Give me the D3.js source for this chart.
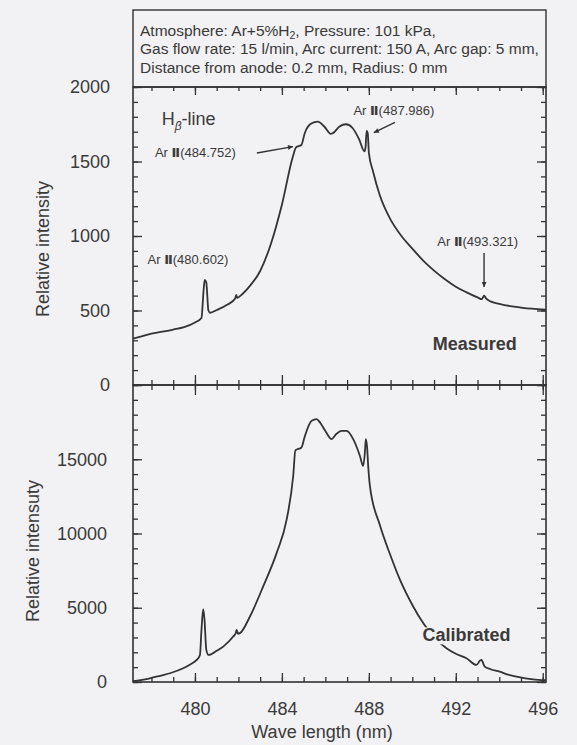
<!DOCTYPE html>
<html>
<head>
<meta charset="utf-8">
<script src="https://cdn.jsdelivr.net/npm/d3@7"></script>
<style>
  body { margin: 0; background: #f2f1f3; }
  text { font-family: "Liberation Sans", Arial, sans-serif; fill: #3a3a3a; }
</style>
</head>
<body>
<div id="plot"></div>
<script>
// measured spectrum (wavelength in nm, relative intensity)
const measuredNm = [477.15, 477.5, 478.0, 478.5, 479.0, 479.5, 480.0, 480.3, 480.4, 480.45, 480.52, 480.62, 480.7, 481.0, 481.5, 481.85, 481.9, 481.95, 482.1, 482.5, 483.0, 483.5, 484.0, 484.5, 484.65, 484.9, 485.05, 485.35, 485.65, 485.95, 486.25, 486.35, 486.65, 486.95, 487.25, 487.55, 487.8, 487.85, 487.9, 487.95, 488.0, 488.2, 488.5, 489.0, 489.5, 490.0, 490.5, 491.0, 491.5, 492.0, 492.5, 493.0, 493.2, 493.3, 493.4, 493.6, 494.0, 494.5, 495.0, 495.5, 496.15];
const measuredVal = [312, 325, 345, 358, 372, 388, 420, 450, 640, 705, 690, 500, 485, 503, 540, 580, 605, 585, 600, 660, 765, 950, 1210, 1530, 1595, 1612, 1690, 1755, 1768, 1735, 1686, 1690, 1735, 1750, 1725, 1650, 1568, 1600, 1705, 1690, 1560, 1430, 1275, 1110, 1000, 915, 835, 768, 710, 660, 622, 588, 576, 600, 580, 561, 545, 530, 520, 512, 505];

// calibrated spectrum
const calibratedNm = [477.15, 477.5, 477.93, 478.4, 478.85, 479.46, 479.8, 480.08, 480.23, 480.3, 480.38, 480.44, 480.52, 480.62, 481.0, 481.3, 481.76, 481.88, 481.92, 481.98, 482.07, 482.53, 483.14, 483.76, 484.22, 484.52, 484.62, 484.9, 485.06, 485.37, 485.6, 485.75, 486.0, 486.29, 486.5, 486.75, 486.98, 487.28, 487.59, 487.74, 487.82, 487.86, 487.92, 487.97, 488.05, 488.5, 489.0, 489.43, 490.04, 490.5, 491.0, 491.57, 492.0, 492.49, 492.95, 493.12, 493.18, 493.33, 493.6, 494.02, 494.4, 494.79, 495.2, 495.55, 496.15];
const calibratedVal = [60, 130, 250, 420, 590, 925, 1200, 1486, 1824, 3500, 4900, 4200, 2200, 1824, 2100, 2385, 3060, 3300, 3513, 3250, 3290, 4412, 6440, 8696, 10946, 13873, 15600, 15790, 16575, 17589, 17704, 17480, 16900, 16352, 16700, 16913, 16913, 16352, 15223, 14548, 15500, 16352, 15800, 14548, 13196, 10600, 8500, 6892, 5088, 3966, 3000, 2277, 1900, 1601, 1149, 1450, 1486, 1034, 860, 696, 500, 358, 250, 182, 120];

// tick values
const xMajorTicks = [480, 484, 488, 492, 496];
const xMinorTicks = d3.range(478, 497, 1);
const topMajorTicks = [0, 500, 1000, 1500, 2000];
const topMinorTicks = d3.range(0, 2001, 100);
const bottomMajorTicks = [0, 5000, 10000, 15000, 20000];
const bottomLabels = [0, 5000, 10000, 15000];
const bottomMinorTicks = d3.range(0, 20001, 1000);

// info box lines
const infoLines = [
    ["Atmosphere: Ar+5%H", "2", ", Pressure: 101 kPa,"],
    ["Gas flow rate: 15 l/min, Arc current: 150 A, Arc gap: 5 mm,"],
    ["Distance from anode: 0.2 mm, Radius: 0 mm"]
];

// canvas
const width = 577;
const height = 745;
const ink = "#333333";
const paper = "#f2f1f3";

const svg = d3.select("#plot").append("svg")
    .attr("width", width)
    .attr("height", height);

// scales
const x = d3.scaleLinear().domain([477.15, 496.15]).range([133, 546]);
const yTop = d3.scaleLinear().domain([0, 2000]).range([385, 87]);
const yBottom = d3.scaleLinear().domain([0, 20000]).range([682, 385]);

// arrow head
svg.append("defs").append("marker")
    .attr("id", "arrow")
    .attr("viewBox", "0 0 10 10")
    .attr("refX", 10)
    .attr("refY", 5)
    .attr("markerWidth", 9)
    .attr("markerHeight", 5)
    .attr("markerUnits", "userSpaceOnUse")
    .attr("orient", "auto")
    .append("path")
    .attr("d", "M0,0 L10,5 L0,10 z")
    .attr("fill", ink);

// info box
svg.append("rect")
    .attr("x", 133).attr("y", 10)
    .attr("width", 413).attr("height", 77)
    .attr("fill", "none")
    .attr("stroke", ink)
    .attr("stroke-width", 1.4);

infoLines.forEach((parts, i) => {
    const t = svg.append("text")
        .attr("x", 140)
        .attr("y", 36 + i * 18.3)
        .attr("font-size", 15.5);
    if (parts.length === 1) {
        t.text(parts[0]);
    } else {
        t.append("tspan").text(parts[0]);
        t.append("tspan").attr("font-size", 10.5).attr("baseline-shift", "-3").text(parts[1]);
        t.append("tspan").text(parts[2]);
    }
});

// axes helper
function addTicks(axisFn, scale, values, size, transform, format, padding) {
    const g = svg.append("g")
        .attr("transform", transform)
        .call(axisFn(scale).tickValues(values).tickSize(-size).tickPadding(padding || 0).tickFormat(format || (() => "")));
    g.select(".domain").remove();
    g.selectAll("line").attr("stroke", ink).attr("stroke-width", 1.3);
    g.selectAll("text").attr("font-size", 18).attr("fill", "#3a3a3a").attr("font-family", "Liberation Sans, Arial, sans-serif");
    return g;
}

// top plot axes
addTicks(d3.axisTop, x, xMinorTicks, 4, "translate(0,87)");
addTicks(d3.axisTop, x, xMajorTicks, 8, "translate(0,87)");
addTicks(d3.axisBottom, x, xMinorTicks, 5, "translate(0,385)");
addTicks(d3.axisBottom, x, xMajorTicks, 10, "translate(0,385)");
addTicks(d3.axisLeft, yTop, topMinorTicks, 5, "translate(133,0)");
addTicks(d3.axisLeft, yTop, topMajorTicks, 9, "translate(133,0)", d3.format("d"), 23);
addTicks(d3.axisRight, yTop, topMinorTicks, 5, "translate(546,0)");
addTicks(d3.axisRight, yTop, topMajorTicks, 9, "translate(546,0)");

// bottom plot axes
addTicks(d3.axisTop, x, xMinorTicks, 5, "translate(0,385)");
addTicks(d3.axisTop, x, xMajorTicks, 10, "translate(0,385)");
addTicks(d3.axisBottom, x, xMinorTicks, 5, "translate(0,682)");
addTicks(d3.axisBottom, x, xMajorTicks, 9, "translate(0,682)", d3.format("d"), 20);
addTicks(d3.axisLeft, yBottom, bottomMinorTicks, 5, "translate(133,0)");
addTicks(d3.axisLeft, yBottom, bottomMajorTicks, 9, "translate(133,0)", d => bottomLabels.includes(d) ? d : "", 26);
addTicks(d3.axisRight, yBottom, bottomMinorTicks, 5, "translate(546,0)");
addTicks(d3.axisRight, yBottom, bottomMajorTicks, 9, "translate(546,0)");

// frames
[[87, 385], [385, 682]].forEach(([y0, y1]) => {
    svg.append("rect")
        .attr("x", 133).attr("y", y0)
        .attr("width", 413).attr("height", y1 - y0)
        .attr("fill", "none")
        .attr("stroke", ink)
        .attr("stroke-width", 1.6);
});

// spectra
const topLine = d3.line().x(d => x(d[0])).y(d => yTop(d[1])).curve(d3.curveMonotoneX);
const bottomLine = d3.line().x(d => x(d[0])).y(d => yBottom(d[1])).curve(d3.curveMonotoneX);

svg.append("path")
    .datum(d3.zip(measuredNm, measuredVal))
    .attr("d", topLine)
    .attr("fill", "none")
    .attr("stroke", ink)
    .attr("stroke-width", 1.8);

svg.append("path")
    .datum(d3.zip(calibratedNm, calibratedVal))
    .attr("d", bottomLine)
    .attr("fill", "none")
    .attr("stroke", ink)
    .attr("stroke-width", 1.8);

// axis labels
svg.append("text")
    .attr("transform", "translate(49,249) rotate(-90)")
    .attr("text-anchor", "middle")
    .attr("font-size", 18)
    .text("Relative intensity");

svg.append("text")
    .attr("transform", "translate(39,551) rotate(-90)")
    .attr("text-anchor", "middle")
    .attr("font-size", 18)
    .text("Relative intensuty");

svg.append("text")
    .attr("x", 322)
    .attr("y", 738)
    .attr("text-anchor", "middle")
    .attr("font-size", 18)
    .text("Wave length (nm)");

// H-beta label
const hb = svg.append("text")
    .attr("x", x(478.47))
    .attr("y", yTop(1745))
    .attr("font-size", 18);
hb.append("tspan").text("H");
hb.append("tspan").attr("font-size", 12).attr("font-style", "italic").attr("baseline-shift", "-5").text("β");
hb.append("tspan").text("-line");

// Ar II line labels
const arLabels = [
    {wl: "484.752", x: 478.16, y: 1533},
    {wl: "487.986", x: 487.29, y: 1809},
    {wl: "480.602", x: 477.82, y: 815},
    {wl: "493.321", x: 491.15, y: 933}
];
arLabels.forEach(d => {
    const t = svg.append("text")
        .attr("x", x(d.x))
        .attr("y", yTop(d.y))
        .attr("font-size", 13);
    t.append("tspan").text("Ar ");
    t.append("tspan").attr("font-weight", "bold").attr("font-family", "DejaVu Sans").text("Ⅱ");
    t.append("tspan").text("(" + d.wl + ")");
});

// arrows: [from nm, from value, to nm, to value]
const arrows = [
    [482.85, 1557, 484.51, 1600],
    [489.2, 1762, 488.23, 1693],
    [493.3, 886, 493.3, 658]
];
arrows.forEach(a => {
    svg.append("line")
        .attr("x1", x(a[0])).attr("y1", yTop(a[1]))
        .attr("x2", x(a[2])).attr("y2", yTop(a[3]))
        .attr("stroke", ink)
        .attr("stroke-width", 1.4)
        .attr("marker-end", "url(#arrow)");
});

// panel names
svg.append("text")
    .attr("x", x(492.87))
    .attr("y", yTop(232))
    .attr("text-anchor", "middle")
    .attr("font-size", 18)
    .attr("font-weight", "bold")
    .text("Measured");

const cal = svg.append("text")
    .attr("x", x(492.49))
    .attr("y", yBottom(2737))
    .attr("text-anchor", "middle")
    .attr("font-size", 18)
    .attr("font-weight", "bold")
    .text("Calibrated");
const bb = cal.node().getBBox();
// hide the curve behind the label, as in the original
svg.append("rect")
    .attr("x", bb.x - 2).attr("y", bb.y + 2)
    .attr("width", bb.width + 4).attr("height", bb.height - 3)
    .attr("fill", paper);
cal.raise();
</script>
</body>
</html>
